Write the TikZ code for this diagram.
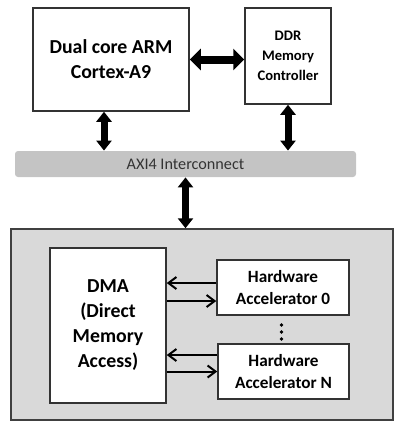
\documentclass[tikz,border=0pt]{standalone}
\usepackage{fontspec}
\setmainfont{Carlito}
\usetikzlibrary{arrows.meta}

\begin{document}
\begin{tikzpicture}[x=0.5pt,y=-0.5pt,
    blk/.style={draw=black!80,line width=0.75pt,fill=white,inner sep=0pt,align=center},
    big/.style={font=\bfseries\fontsize{9.9}{12.5}\selectfont},
    mid/.style={font=\bfseries\fontsize{8.6}{11}\selectfont},
    bus/.style={{Triangle[width=7.5pt,length=5pt]}-{Triangle[width=7.5pt,length=5pt]},line width=3.5pt},
    link/.style={-{Straight Barb[length=4pt,width=6pt,line width=1pt]},line width=1pt}]
  \useasboundingbox (0,0) rectangle (396,423);
  % accelerator subsystem
  \node[draw=black!75,line width=0.75pt,fill=black!15,inner sep=0pt,
        minimum width=191pt,minimum height=95.5pt] (sys) at (202,324.5) {};
  % processing system
  \node[blk,big,minimum width=78pt,minimum height=51.5pt] (arm) at (111,59.5)
    {Dual core ARM\\Cortex-A9};
  \node[blk,font=\bfseries\fontsize{7.3}{10}\selectfont,minimum width=43pt,minimum height=48pt]
    (ddr) at (288,56) {DDR\\Memory\\Controller};
  \node[fill=black!23,rounded corners=1.5pt,inner sep=0pt,text=black!80,
        font=\fontsize{8.1}{10}\selectfont,
        minimum width=170.5pt,minimum height=13pt] (axi) at (185.5,164) {AXI4 Interconnect};
  \node[blk,big,minimum width=58pt,minimum height=77.5pt] (dma) at (108,325.5)
    {DMA\\(Direct\\Memory\\Access)};
  \node[blk,mid,minimum width=66pt,minimum height=27.5pt] (hw0) at (283,287.5)
    {Hardware\\Accelerator 0};
  \node[blk,mid,minimum width=65.5pt,minimum height=27.5pt] (hwn) at (283.5,371.5)
    {Hardware\\Accelerator N};
  % buses
  \draw[bus,{Triangle[width=10.5pt,length=5.5pt]}-{Triangle[width=10.5pt,length=5.5pt]},line width=4pt]
    (arm.east) -- (arm.east -| ddr.west);
  \draw[bus] ([xshift=-3.5pt]arm.south) -- ([xshift=-3.5pt]arm.south |- axi.north);
  \draw[bus] (ddr.south) -- (ddr.south |- axi.north);
  \draw[bus] (axi.south) -- (axi.south |- sys.north);
  % dma <-> accelerators
  \draw[link] ([yshift=2.25pt]hw0.west) -- ([yshift=2.25pt]hw0.west -| dma.east);
  \draw[link] ([yshift=-6.75pt]hw0.west -| dma.east) -- ([yshift=-6.75pt]hw0.west);
  \draw[link] ([yshift=8.25pt]hwn.west) -- ([yshift=8.25pt]hwn.west -| dma.east);
  \draw[link] (hwn.west -| dma.east) -- (hwn.west);
  \foreach \y in {325,332,339}
    \fill (281.5,\y) circle (0.9pt);
\end{tikzpicture}
\end{document}
